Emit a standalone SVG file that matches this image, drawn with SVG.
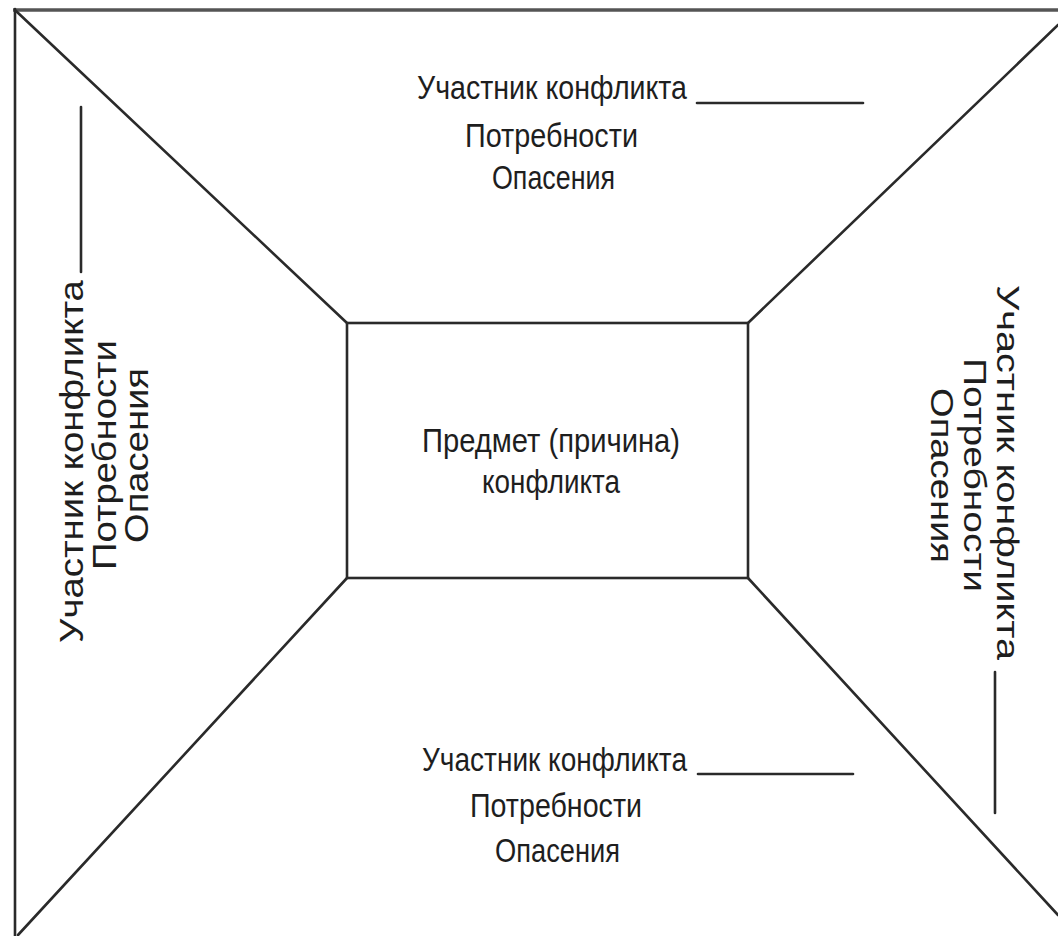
<svg xmlns="http://www.w3.org/2000/svg" width="1058" height="936" viewBox="0 0 1058 936">
<style>
.ln{stroke:#2a2a2a;stroke-width:2.6;fill:none;stroke-linecap:round}
.fr{stroke:#555;stroke-width:3.5;fill:none}
.t{font-family:"Liberation Sans",Arial,sans-serif;font-size:33px;fill:#1e1e1e}
.vl{font-family:"Liberation Sans",Arial,sans-serif;font-size:34px;fill:#1e1e1e}
.vr{font-family:"Liberation Sans",Arial,sans-serif;font-size:31px;fill:#1e1e1e}
</style>
<rect width="1058" height="936" fill="#fff"/>
<g id="frame">
<line class="fr" x1="13" y1="10" x2="1058" y2="10"/>
<line class="ln" x1="15" y1="9" x2="15" y2="936"/>
</g>
<g id="connectors">
<line class="ln" x1="16" y1="11" x2="347" y2="323"/>
<line class="ln" x1="1058" y1="25" x2="748" y2="323"/>
<line class="ln" x1="18" y1="935" x2="347" y2="578"/>
<line class="ln" x1="1058" y1="915" x2="748" y2="578"/>
</g>
<g id="center">
<rect class="ln" x="347" y="323" width="401" height="255" stroke-width="3"/>
<text class="t" x="422" y="452" textLength="258" lengthAdjust="spacingAndGlyphs">Предмет (причина)</text>
<text class="t" x="482" y="493" textLength="138" lengthAdjust="spacingAndGlyphs">конфликта</text>
</g>
<g id="top">
<text class="t" x="417" y="99" textLength="270" lengthAdjust="spacingAndGlyphs">Участник конфликта</text>
<line class="ln" x1="697" y1="103" x2="863" y2="103"/>
<text class="t" x="465" y="147" textLength="173" lengthAdjust="spacingAndGlyphs">Потребности</text>
<text class="t" x="492" y="189" textLength="123" lengthAdjust="spacingAndGlyphs">Опасения</text>
</g>
<g id="bottom">
<text class="t" x="422" y="771" textLength="265" lengthAdjust="spacingAndGlyphs">Участник конфликта</text>
<line class="ln" x1="698" y1="774" x2="853" y2="774"/>
<text class="t" x="470" y="817" textLength="172" lengthAdjust="spacingAndGlyphs">Потребности</text>
<text class="t" x="495" y="862" textLength="125" lengthAdjust="spacingAndGlyphs">Опасения</text>
</g>
<g id="left">
<text class="vl" transform="translate(83,643) rotate(-90)" textLength="363" lengthAdjust="spacingAndGlyphs">Участник конфликта</text>
<line class="ln" x1="81" y1="107" x2="81" y2="272"/>
<text class="vl" transform="translate(116,570) rotate(-90)" textLength="230" lengthAdjust="spacingAndGlyphs">Потребности</text>
<text class="vl" transform="translate(148,543) rotate(-90)" textLength="175" lengthAdjust="spacingAndGlyphs">Опасения</text>
</g>
<g id="right">
<text class="vr" transform="translate(997,285) rotate(90)" textLength="375" lengthAdjust="spacingAndGlyphs">Участник конфликта</text>
<line class="ln" x1="995" y1="672" x2="995" y2="813"/>
<text class="vr" transform="translate(964,358) rotate(90)" textLength="234" lengthAdjust="spacingAndGlyphs">Потребности</text>
<text class="vr" transform="translate(931,388) rotate(90)" textLength="175" lengthAdjust="spacingAndGlyphs">Опасения</text>
</g>
</svg>
